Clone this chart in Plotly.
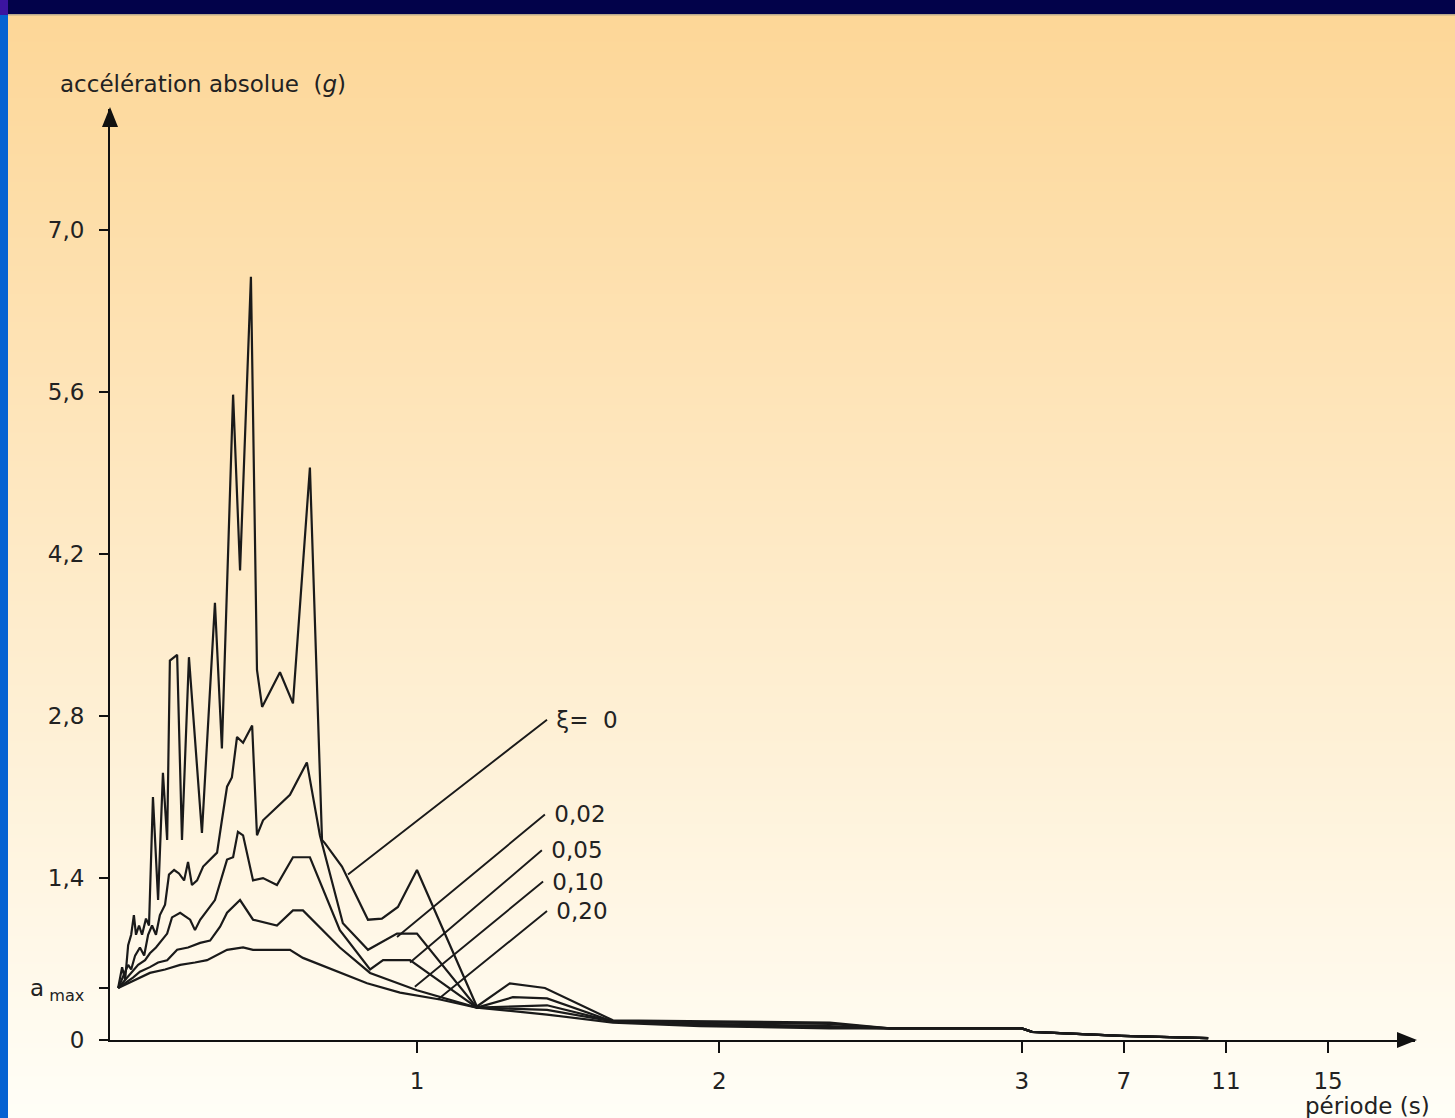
import base64
import struct
import zlib

import plotly.graph_objects as go

# ---------------------------------------------------------------------------
# Absolute-acceleration response spectra for several damping ratios (xi)
# period in seconds, acceleration in g
# ---------------------------------------------------------------------------
A_MAX = 0.45

periods_0 = [0.012, 0.025, 0.035, 0.045, 0.055, 0.064, 0.071, 0.081, 0.091, 0.104,
             0.114, 0.127, 0.144, 0.160, 0.174, 0.183, 0.207, 0.223, 0.246, 0.289,
             0.332, 0.355, 0.392, 0.415, 0.451, 0.471, 0.488, 0.547, 0.590, 0.646,
             0.686, 0.696, 0.752, 0.838, 0.884, 0.937, 1.000, 1.198, 1.307, 1.423,
             1.648, 1.936, 2.365, 2.564, 3.0, 3.4, 6.9, 10.3]
accel_0 = [0.45, 0.63, 0.52, 0.82, 0.91, 1.08, 0.91, 0.99, 0.91, 1.05,
           0.99, 2.10, 1.21, 2.31, 1.73, 3.28, 3.33, 1.73, 3.31, 1.79,
           3.78, 2.52, 5.58, 4.06, 6.60, 3.20, 2.88, 3.18, 2.91, 4.95,
           1.73, 1.70, 1.50, 1.04, 1.05, 1.15, 1.47, 0.29, 0.49, 0.45,
           0.17, 0.16, 0.15, 0.10, 0.10, 0.07, 0.035, 0.017]

periods_002 = [0.012, 0.031, 0.045, 0.055, 0.068, 0.084, 0.098, 0.111, 0.124, 0.137,
               0.150, 0.167, 0.180, 0.197, 0.213, 0.230, 0.243, 0.256, 0.273, 0.293,
               0.316, 0.339, 0.355, 0.372, 0.388, 0.405, 0.425, 0.455, 0.471, 0.491,
               0.580, 0.636, 0.679, 0.755, 0.838, 0.934, 1.000, 1.198, 1.317, 1.430,
               1.648, 1.936, 2.365, 2.564, 3.0, 3.4, 6.9, 10.3]
accel_002 = [0.45, 0.56, 0.65, 0.61, 0.73, 0.80, 0.73, 0.91, 0.99, 0.91,
             1.08, 1.17, 1.43, 1.47, 1.44, 1.38, 1.54, 1.34, 1.38, 1.50,
             1.56, 1.62, 1.90, 2.19, 2.27, 2.62, 2.57, 2.72, 1.77, 1.90,
             2.12, 2.40, 1.77, 1.01, 0.78, 0.92, 0.92, 0.28, 0.37, 0.36,
             0.16, 0.15, 0.14, 0.10, 0.10, 0.07, 0.035, 0.017]

periods_005 = [0.012, 0.035, 0.058, 0.078, 0.101, 0.117, 0.137, 0.154, 0.174, 0.190,
               0.217, 0.250, 0.266, 0.283, 0.316, 0.332, 0.372, 0.392, 0.408, 0.425,
               0.458, 0.491, 0.537, 0.590, 0.646, 0.745, 0.845, 0.888, 0.977, 1.198,
               1.430, 1.648, 1.936, 2.365, 2.564, 3.0, 3.4, 6.9, 10.3]
accel_005 = [0.45, 0.52, 0.59, 0.65, 0.69, 0.75, 0.80, 0.86, 0.92, 1.06,
             1.10, 1.04, 0.95, 1.04, 1.15, 1.21, 1.56, 1.58, 1.80, 1.77,
             1.38, 1.40, 1.34, 1.58, 1.58, 0.95, 0.61, 0.69, 0.69, 0.28,
             0.30, 0.16, 0.14, 0.12, 0.10, 0.10, 0.07, 0.035, 0.017]

periods_010 = [0.012, 0.035, 0.061, 0.084, 0.117, 0.144, 0.174, 0.207, 0.243, 0.283,
               0.316, 0.349, 0.372, 0.415, 0.458, 0.537, 0.590, 0.623, 0.745, 0.845,
               1.000, 1.198, 1.430, 1.648, 1.936, 2.365, 2.564, 3.0, 3.4, 6.9, 10.3]
accel_010 = [0.45, 0.49, 0.54, 0.59, 0.63, 0.67, 0.69, 0.78, 0.80, 0.84,
             0.86, 0.98, 1.10, 1.21, 1.04, 0.99, 1.12, 1.12, 0.80, 0.58,
             0.43, 0.28, 0.26, 0.16, 0.13, 0.11, 0.10, 0.10, 0.07, 0.035, 0.017]

periods_020 = [0.012, 0.035, 0.068, 0.117, 0.167, 0.217, 0.266, 0.306, 0.372, 0.425,
               0.458, 0.580, 0.623, 0.722, 0.835, 0.944, 1.076, 1.198, 1.430, 1.648,
               1.936, 2.365, 2.564, 3.0, 3.4, 6.9, 10.3]
accel_020 = [0.45, 0.48, 0.52, 0.58, 0.61, 0.65, 0.67, 0.69, 0.78, 0.80,
             0.78, 0.78, 0.71, 0.61, 0.49, 0.41, 0.35, 0.28, 0.22, 0.15,
             0.12, 0.10, 0.10, 0.10, 0.07, 0.035, 0.017]

damping_labels = ["ξ=\u00a0\u00a00", "0,02", "0,05", "0,10", "0,20"]
# point on each curve where its leader starts (period, acceleration)
leader_periods = [0.772, 0.934, 0.977, 0.993, 1.069]
leader_accels = [1.43, 0.89, 0.67, 0.46, 0.35]
# label end of each leader (period, acceleration)
label_periods = [1.430, 1.423, 1.413, 1.417, 1.430]
label_accels = [2.77, 1.95, 1.64, 1.37, 1.115]

x_tick_periods = [1, 2, 3, 7, 11, 15]
x_tick_text = ["1", "2", "3", "7", "11", "15"]
y_tick_values = [0, A_MAX, 1.4, 2.8, 4.2, 5.6, 7.0]
y_tick_text = ["0", "a<sub> max</sub>", "1,4", "2,8", "4,2", "5,6", "7,0"]


def to_axis(t):
    """Period axis: linear up to 3 s, then compressed (4 s per third of a unit)."""
    return t if t <= 3 else 3 + (t - 3) / 11.85


# ---------------------------------------------------------------------------
# Figure geometry
# ---------------------------------------------------------------------------
W, H = 1455, 1118
ML, MR, MT, MB = 110, 40, 109, 78
PW, PH = W - ML - MR, H - MT - MB


def px(x):
    return (x - ML) / PW


def py(y):
    return (H - MB - y) / PH


def gradient_png(height, top, bottom):
    rows = []
    for i in range(height):
        t = i / (height - 1)
        c = bytes(round(a + (b - a) * t) for a, b in zip(top, bottom))
        rows.append(b"\x00" + c * 2)
    raw = b"".join(rows)

    def chunk(tag, data):
        return (struct.pack(">I", len(data)) + tag + data
                + struct.pack(">I", zlib.crc32(tag + data) & 0xFFFFFFFF))

    png = (b"\x89PNG\r\n\x1a\n"
           + chunk(b"IHDR", struct.pack(">IIBBBBB", 2, height, 8, 2, 0, 0, 0))
           + chunk(b"IDAT", zlib.compress(raw, 9))
           + chunk(b"IEND", b""))
    return "data:image/png;base64," + base64.b64encode(png).decode()


FONT = "DejaVu Sans"
TEXT_COLOR = "#222222"
LINE_COLOR = "#1a1a1a"
AXIS_COLOR = "#111111"

fig = go.Figure()

series = [
    (periods_0, accel_0),
    (periods_002, accel_002),
    (periods_005, accel_005),
    (periods_010, accel_010),
    (periods_020, accel_020),
]
for (per, acc), name in zip(series, damping_labels):
    fig.add_trace(go.Scatter(
        x=[to_axis(p) for p in per], y=acc, mode="lines", name=name,
        line=dict(color=LINE_COLOR, width=2.2),
        hoverinfo="skip",
    ))

annotations = []
# damping labels with their leader lines
for lab, tp, ta, lp, la in zip(damping_labels, leader_periods, leader_accels,
                               label_periods, label_accels):
    annotations.append(dict(
        x=to_axis(tp), y=ta, xref="x", yref="y",
        ax=to_axis(lp), ay=la, axref="x", ayref="y",
        text="\u00a0" + lab, showarrow=True, arrowhead=0, arrowwidth=1.9,
        arrowcolor=LINE_COLOR, xanchor="left", yanchor="middle",
        font=dict(family=FONT, size=23, color=TEXT_COLOR),
    ))

# axis titles
annotations.append(dict(x=px(58), y=py(84), xref="paper", yref="paper",
                        text="accélération absolue  (<i>g</i>)", showarrow=False,
                        xanchor="left", yanchor="middle",
                        font=dict(family=FONT, size=23, color=TEXT_COLOR)))
annotations.append(dict(x=px(1432), y=py(1106), xref="paper", yref="paper",
                        text="période (s)", showarrow=False,
                        xanchor="right", yanchor="middle",
                        font=dict(family=FONT, size=23, color=TEXT_COLOR)))

shapes = [
    # dark title band across the top
    dict(type="rect", xref="paper", yref="paper", x0=px(0), x1=px(W),
         y0=py(14), y1=py(0), fillcolor="#02024a", line=dict(width=0), layer="above"),
    dict(type="rect", xref="paper", yref="paper", x0=px(0), x1=px(W),
         y0=py(15.5), y1=py(14), fillcolor="#b9a98c", line=dict(width=0), layer="above"),
    # blue frame strip on the left
    dict(type="rect", xref="paper", yref="paper", x0=px(0), x1=px(8),
         y0=py(H), y1=py(15), fillcolor="#0562d2", line=dict(width=0), layer="above"),
    dict(type="rect", xref="paper", yref="paper", x0=px(0), x1=px(8),
         y0=py(15), y1=py(0), fillcolor="#3b14a0", line=dict(width=0), layer="above"),
    # arrowheads closing both axes
    dict(type="path", xref="paper", yref="paper", xsizemode="pixel", ysizemode="pixel",
         xanchor=1.0, yanchor=0.0, path="M -18,-8 L 2,0 L -18,8 Z",
         fillcolor=AXIS_COLOR, line=dict(width=0), layer="above"),
    dict(type="path", xref="paper", yref="paper", xsizemode="pixel", ysizemode="pixel",
         xanchor=0.0, yanchor=1.0, path="M -8,-18 L 0,2 L 8,-18 Z",
         fillcolor=AXIS_COLOR, line=dict(width=0), layer="above"),
]

fig.update_layout(
    width=W, height=H, autosize=False,
    margin=dict(l=ML, r=MR, t=MT, b=MB, pad=0),
    paper_bgcolor="rgba(0,0,0,0)", plot_bgcolor="rgba(0,0,0,0)",
    showlegend=False, hovermode=False,
    images=[dict(source=gradient_png(H, (253, 214, 150), (255, 254, 247)),
                 xref="paper", yref="paper", x=px(0), y=py(0),
                 sizex=W / PW, sizey=H / PH, sizing="stretch",
                 xanchor="left", yanchor="top", layer="below")],
    shapes=shapes,
    annotations=annotations,
    xaxis=dict(range=[-0.015, 4.3], tickvals=[to_axis(t) for t in x_tick_periods],
               ticktext=x_tick_text, ticks="outside", ticklen=11, tickwidth=2,
               tickcolor=AXIS_COLOR, showline=True, linecolor=AXIS_COLOR, linewidth=2,
               showgrid=False, zeroline=False, ticklabelstandoff=8,
               tickfont=dict(family=FONT, size=23, color=TEXT_COLOR)),
    yaxis=dict(range=[0, 8.05], tickvals=y_tick_values, ticktext=y_tick_text,
               ticks="outside", ticklen=9, tickwidth=2, tickcolor=AXIS_COLOR,
               showline=True, linecolor=AXIS_COLOR, linewidth=2,
               showgrid=False, zeroline=False, ticklabelstandoff=10,
               tickfont=dict(family=FONT, size=23, color=TEXT_COLOR)),
)

fig.write_html("out.html")
